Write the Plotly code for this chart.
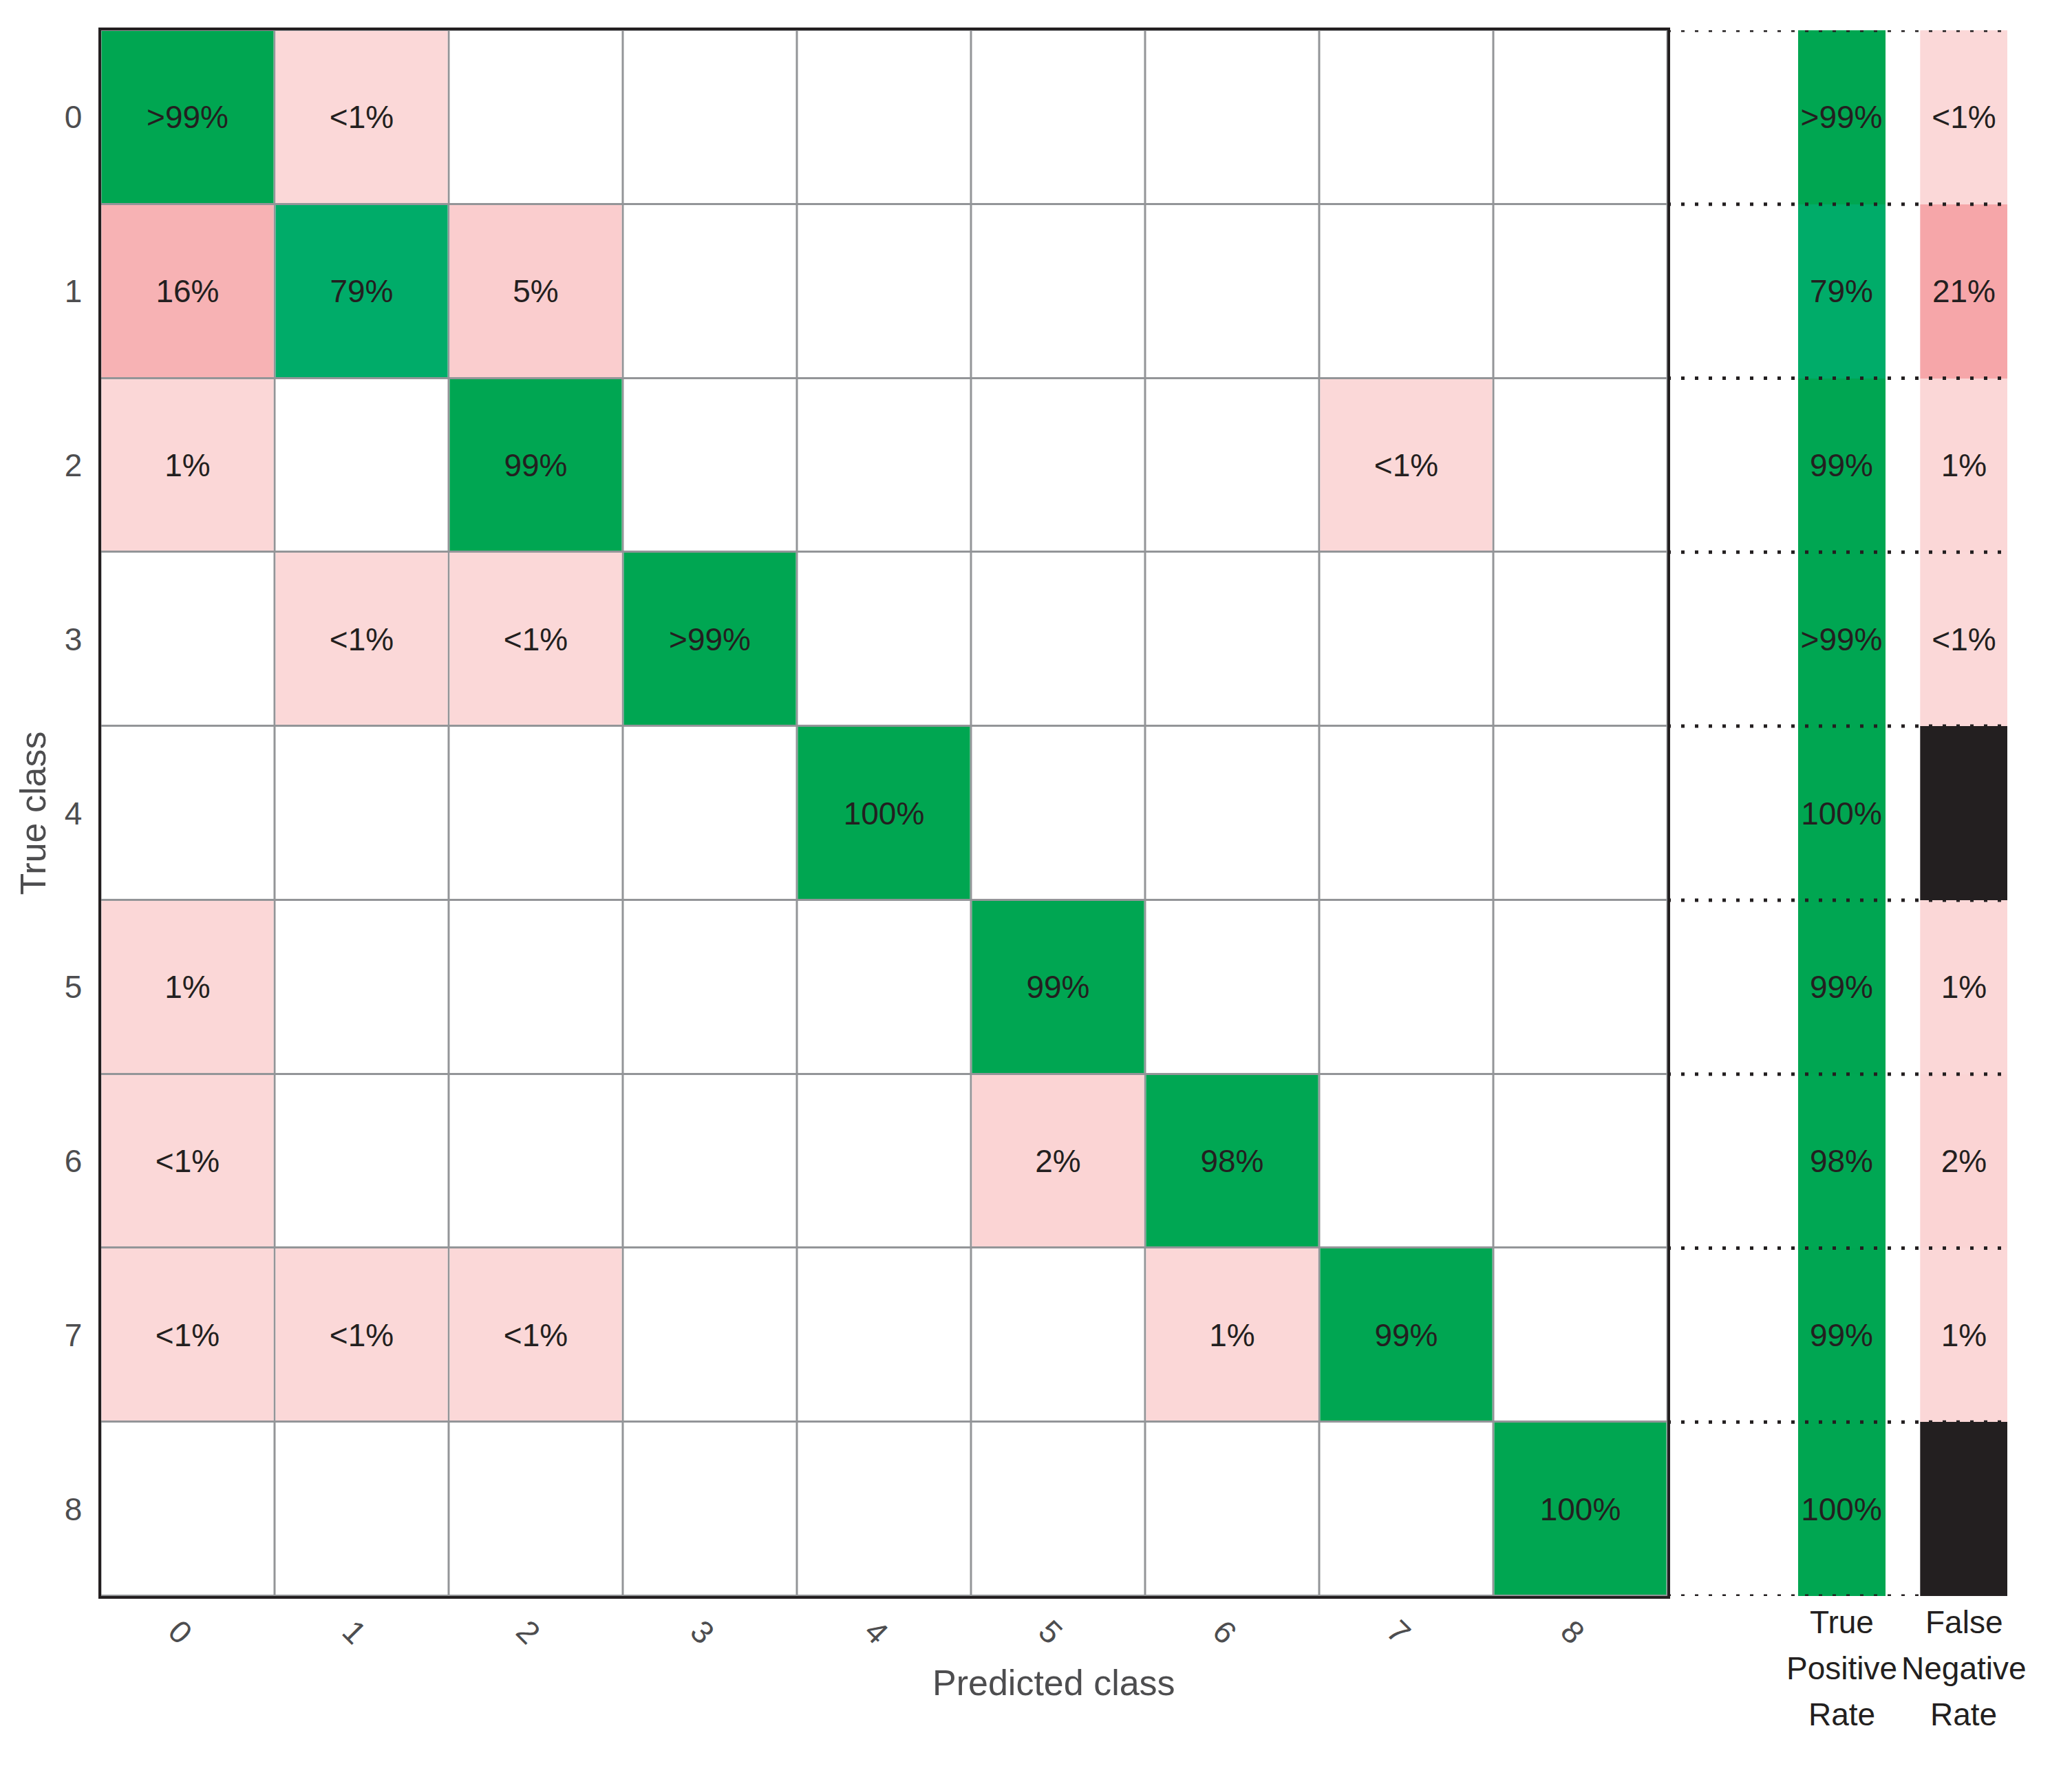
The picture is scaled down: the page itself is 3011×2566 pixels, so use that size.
import plotly.graph_objects as go

# ---------------- data ----------------
classes = ["0", "1", "2", "3", "4", "5", "6", "7", "8"]

# confusion matrix in percent (row = true class, column = predicted class), None = empty cell
row_0 = [99.6, 0.4, None, None, None, None, None, None, None]
row_1 = [16, 79, 5, None, None, None, None, None, None]
row_2 = [1, None, 99, None, None, None, None, 0.4, None]
row_3 = [None, 0.3, 0.3, 99.4, None, None, None, None, None]
row_4 = [None, None, None, None, 100, None, None, None, None]
row_5 = [1, None, None, None, None, 99, None, None, None]
row_6 = [0.4, None, None, None, None, 2, 98, None, None]
row_7 = [0.3, 0.3, 0.3, None, None, None, 1, 99, None]
row_8 = [None, None, None, None, None, None, None, None, 100]

true_positive_rate = [99.6, 79, 99, 99.4, 100, 99, 98, 99, 100]
false_negative_rate = [0.4, 21, 1, 0.6, 0, 1, 2, 1, 0]

side_titles = [["True", "Positive", "Rate"], ["False", "Negative", "Rate"]]

# ---------------- helpers ----------------
matrix = [row_0, row_1, row_2, row_3, row_4, row_5, row_6, row_7, row_8]
n = len(classes)


def fmt(v):
    if v is None or v == 0:
        return ""
    if v < 1:
        return "<1%"
    if 99 < v < 100:
        return ">99%"
    return f"{v:.0f}%"


W, H = 3011, 2566
OFF = 5  # page offset compensation
FONT = "Liberation Sans, Arial, Helvetica, sans-serif"
TXT = "#231F20"
TICK = "#4D4D4F"
GRID = "#939598"


def px_x(p):
    return (p - OFF) / W


def px_y(p):
    return 1 - (p - OFF) / H


# layout geometry (pixels in the final picture)
plot_l, plot_r, plot_t, plot_b = 143.5, 2420, 41, 2316
side_r = 2914

green_scale = [[0, "#00AD6E"], [1, "#00A651"]]
pink_scale = [[0, "#FBD9D9"], [1, "#F6A6A9"]]
fnr_scale = [[0, TXT], [0.0001, TXT], [0.0002, "#FBD9D9"], [1, "#F6A6A9"]]

diag_z = [[matrix[i][j] if i == j else None for j in range(n)] for i in range(n)]
off_z = [[matrix[i][j] if i != j else None for j in range(n)] for i in range(n)]
diag_t = [[fmt(v) for v in r] for r in diag_z]
off_t = [[fmt(v) for v in r] for r in off_z]
ones = [[1] * n for _ in range(n)]
idx = list(range(n))
cell_font = dict(family=FONT, size=46, color=TXT)

fig = go.Figure()

# grey base (grid lines show through the gaps)
fig.add_trace(go.Heatmap(z=ones, x=idx, y=idx, colorscale=[[0, GRID], [1, GRID]],
                         showscale=False, hoverinfo="skip"))
# white cells
fig.add_trace(go.Heatmap(z=ones, x=idx, y=idx, colorscale=[[0, "white"], [1, "white"]],
                         showscale=False, xgap=3, ygap=3, hoverinfo="skip"))
# diagonal (correct) cells
fig.add_trace(go.Heatmap(z=diag_z, x=idx, y=idx, colorscale=green_scale, zmin=75, zmax=100,
                         showscale=False, xgap=3, ygap=3, text=diag_t, texttemplate="%{text}",
                         textfont=cell_font, hoverinfo="skip"))
# off-diagonal (error) cells
fig.add_trace(go.Heatmap(z=off_z, x=idx, y=idx, colorscale=pink_scale, zmin=0, zmax=21,
                         showscale=False, xgap=3, ygap=3, text=off_t, texttemplate="%{text}",
                         textfont=cell_font, hoverinfo="skip"))

# side columns (x in units of one matrix cell, measured from the right edge of the matrix)
tpr_edges = [0.75, 1.25]
fnr_edges = [1.45, 1.95]
fig.add_trace(go.Heatmap(z=[[v] for v in true_positive_rate], x=tpr_edges, y=idx,
                         colorscale=green_scale, zmin=75, zmax=100, showscale=False,
                         text=[[fmt(v)] for v in true_positive_rate], texttemplate="%{text}",
                         textfont=cell_font, xaxis="x2", yaxis="y2", hoverinfo="skip"))
fig.add_trace(go.Heatmap(z=[[v] for v in false_negative_rate], x=fnr_edges, y=idx,
                         colorscale=fnr_scale, zmin=0, zmax=21, showscale=False,
                         text=[[fmt(v)] for v in false_negative_rate], texttemplate="%{text}",
                         textfont=cell_font, xaxis="x2", yaxis="y2", hoverinfo="skip"))

# dotted row separators in the side panel
shapes = []
for b in [i - 0.5 for i in range(n + 1)]:
    shapes.append(dict(type="line", xref="x2 domain", x0=0, x1=1, yref="y2", y0=b, y1=b,
                       line=dict(color=TXT, width=5, dash="5px,15px"), layer="above"))

ydom = [px_y(plot_b), px_y(plot_t)]

annotations = [
    dict(text="Predicted class", xref="paper", yref="paper",
         x=px_x((plot_l + side_r) / 2), y=px_y(2442), xanchor="center", yanchor="middle",
         showarrow=False, font=dict(family=FONT, size=52, color=TICK)),
    dict(text="True class", xref="paper", yref="paper", x=px_x(44),
         y=sum(ydom) / 2, xanchor="center", yanchor="middle", textangle=-90,
         showarrow=False, font=dict(family=FONT, size=52, color=TICK)),
]
line_centers = [2354, 2421, 2488]
for edges, lines in zip([tpr_edges, fnr_edges], side_titles):
    for yc, t in zip(line_centers, lines):
        annotations.append(dict(text=t, xref="x2", yref="paper", x=sum(edges) / 2,
                                y=px_y(yc), xanchor="center", yanchor="middle",
                                showarrow=False, font=dict(family=FONT, size=46, color=TXT)))

fig.update_layout(
    width=W, height=H,
    margin=dict(l=0, r=0, t=0, b=0),
    paper_bgcolor="white", plot_bgcolor="white",
    showlegend=False,
    font=dict(family=FONT),
    xaxis=dict(domain=[px_x(plot_l), px_x(plot_r)], range=[-0.5, n - 0.5],
               tickvals=idx, ticktext=classes, tickangle=45,
               tickfont=dict(family=FONT, size=46, color=TICK),
               showgrid=False, zeroline=False, ticks="",
               showline=True, mirror=True, linecolor=TXT, linewidth=4,
               anchor="y", ticklabelstandoff=2, ticklabelshift=-15),
    yaxis=dict(domain=ydom, range=[n - 0.5, -0.5],
               tickvals=idx, ticktext=classes,
               tickfont=dict(family=FONT, size=46, color=TICK),
               showgrid=False, zeroline=False, ticks="",
               showline=True, mirror=True, linecolor=TXT, linewidth=4,
               anchor="x", ticklabelstandoff=14),
    xaxis2=dict(domain=[px_x(plot_r), px_x(side_r)], range=[0, 1.95],
                showgrid=False, zeroline=False, showticklabels=False, ticks="",
                showline=False, anchor="y2"),
    yaxis2=dict(domain=ydom, matches="y", showgrid=False, zeroline=False,
                showticklabels=False, ticks="", showline=False, anchor="x2"),
    shapes=shapes,
    annotations=annotations,
)

fig.write_html("out.html")
